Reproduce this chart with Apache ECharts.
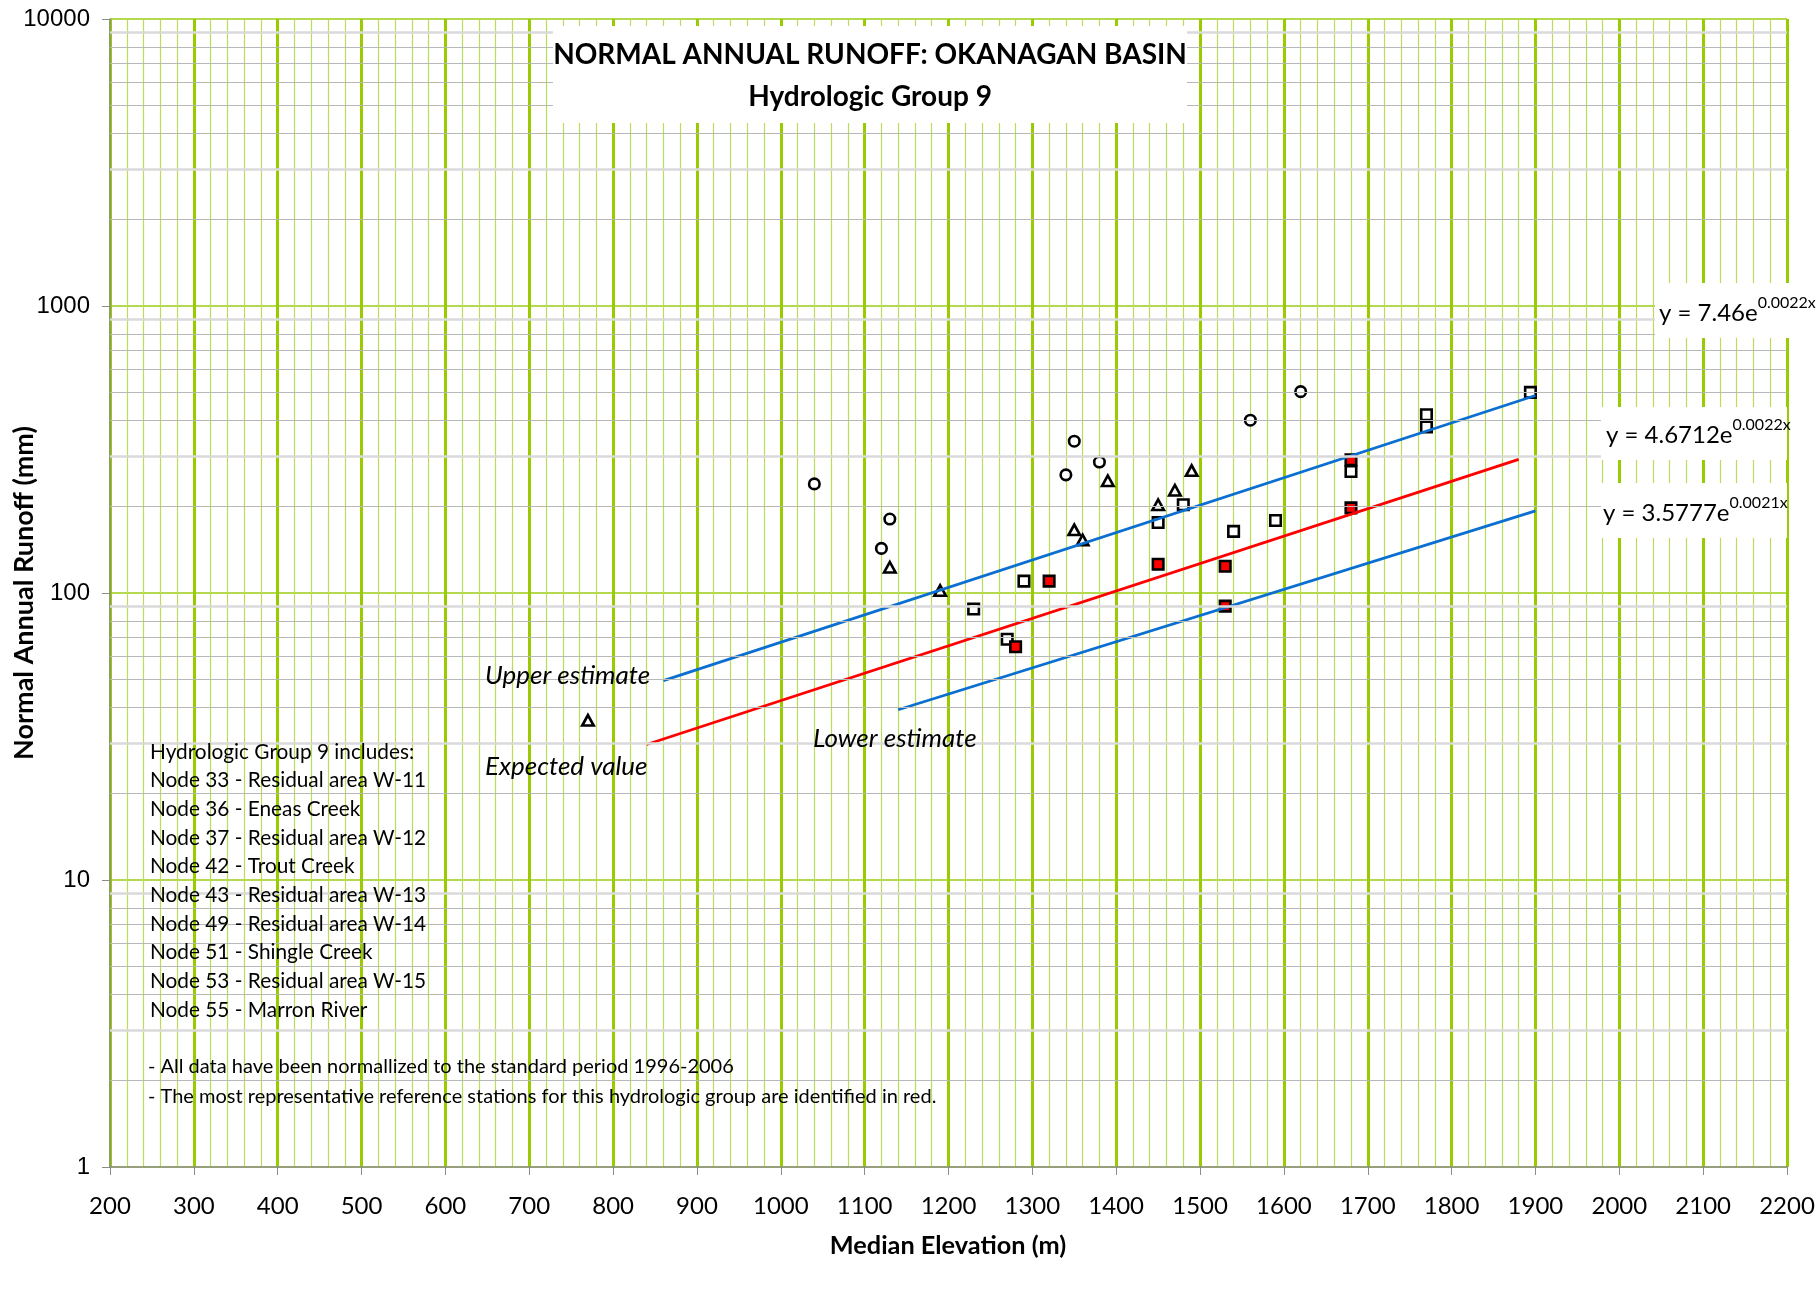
<!DOCTYPE html>
<html>
<head>
<meta charset="utf-8">
<title>Normal Annual Runoff: Okanagan Basin - Hydrologic Group 9</title>
<script src="https://cdn.jsdelivr.net/npm/echarts@6/dist/echarts.min.js"></script>
<style>
  html, body { margin: 0; padding: 0; background: #ffffff; }
  #chart { width: 1818px; height: 1291px; }
</style>
</head>
<body>
<div id="chart"></div>
<script>
// ---- Station data: median elevation (m) and normal annual runoff (mm) ----
const circleElevation = [1040, 1130, 1120, 1350, 1340, 1380, 1560, 1620];
const circleRunoff    = [240, 181, 143, 338, 258, 286, 400, 503];

const triangleElevation = [770, 1130, 1190, 1350, 1360, 1390, 1450, 1470, 1490];
const triangleRunoff    = [36, 123, 102, 166, 153, 246, 203, 228, 267];

const squareElevation = [1230, 1270, 1290, 1450, 1480, 1540, 1590, 1680, 1770, 1770, 1894];
const squareRunoff    = [88, 69, 110, 176, 203, 164, 179, 265, 418, 379, 500];

// reference stations (shown in red)
const refElevation = [1280, 1320, 1450, 1530, 1530, 1680, 1680];
const refRunoff    = [65, 110, 126, 124, 90, 291, 198];

// ---- Fitted curves y = a * e^(b x) ----
const trendNames  = ['Upper estimate', 'Expected value', 'Lower estimate'];
const trendCoef   = [7.46, 4.6712, 3.5777];
const trendExpo   = [0.0022, 0.0022, 0.0021];
const trendStart  = [860, 840, 1140];
const trendEnd    = [1900, 1880, 1900];
const trendColors = ['#0a6fd0', '#ff0000', '#0a6fd0'];

// ---- Axis ticks ----
const elevationMin = 200, elevationMax = 2200, elevationStep = 100;
const runoffMin = 1, runoffMax = 10000;
const runoffDecades = [1, 10, 100, 1000];
const minorMultipliers = [2, 3, 4, 5, 6, 7, 8, 9];

// ---- Notes ----
const groupHeading = 'Hydrologic Group 9 includes:';
const groupNodes = [
  'Node 33 - Residual area W-11',
  'Node 36 - Eneas Creek',
  'Node 37 - Residual area W-12',
  'Node 42 - Trout Creek',
  'Node 43 - Residual area W-13',
  'Node 49 - Residual area W-14',
  'Node 51 - Shingle Creek',
  'Node 53 - Residual area W-15',
  'Node 55 - Marron River'
];
const footNotes = [
  '- All data have been normallized to the standard period 1996-2006',
  '- The most representative reference stations for this hydrologic group are identified in red.'
];

const FONT = 'Lato, "Open Sans", sans-serif';
const TOP = 100;

function pairs(xs, ys) { return xs.map((x, i) => [x, ys[i]]); }

function textWidth(str, font) {
  const ctx = document.createElement('canvas').getContext('2d');
  ctx.font = font;
  return ctx.measureText(str).width;
}

// light horizontal grid at 2..9 within each decade
const minorLines = [];
runoffDecades.forEach(d => {
  minorMultipliers.forEach(m => {
    const light = (m === 3 || m === 9);
    minorLines.push({
      yAxis: m * d,
      lineStyle: { color: light ? '#dadada' : '#b8b8b8', width: light ? 2.5 : 1, type: 'solid' }
    });
  });
});

const trendSeries = trendNames.map((name, i) => ({
  name: name,
  type: 'line',
  z: 4,
  symbol: 'none',
  silent: true,
  lineStyle: { color: trendColors[i], width: 2.8 },
  data: [
    [trendStart[i], trendCoef[i] * Math.exp(trendExpo[i] * trendStart[i])],
    [trendEnd[i],   trendCoef[i] * Math.exp(trendExpo[i] * trendEnd[i])]
  ]
}));

function markerSeries(name, symbol, size, fill, data) {
  return {
    name: name,
    type: 'scatter',
    z: 3,
    symbol: symbol,
    symbolSize: size,
    itemStyle: { color: fill, borderColor: '#000000', borderWidth: 2.6, opacity: 1 },
    data: data
  };
}

// equation boxes (layout)
const eqLayout = [
  { box: [1655, 283, 163, 55], x: 1659, y: 313 },
  { box: [1601, 407, 186, 53], x: 1606, y: 435 },
  { box: [1601, 483, 186, 55], x: 1603, y: 513 }
];
const EQ_MAIN = '24px ' + FONT;
const EQ_SUP = '16px ' + FONT;

const graphics = [];

function rectEl(x, y, w, h) {
  return { type: 'rect', z: TOP, shape: { x: x, y: y, width: w, height: h }, style: { fill: '#ffffff' } };
}
function textEl(x, y, text, font, align, extra) {
  return Object.assign({
    type: 'text', z: TOP + 1, x: x, y: y,
    style: Object.assign({ text: text, font: font, fill: '#000', align: align, verticalAlign: 'middle' }, extra || {})
  });
}

// title block
graphics.push(rectEl(553, 26, 634, 97));
graphics.push(textEl(870, 55, 'NORMAL ANNUAL RUNOFF: OKANAGAN BASIN', 'bold 28px ' + FONT, 'center'));
graphics.push(textEl(870, 97, 'Hydrologic Group 9', 'bold 28px ' + FONT, 'center'));

// equations
eqLayout.forEach((L, i) => {
  const main = 'y = ' + trendCoef[i] + 'e';
  const sup = trendExpo[i] + 'x';
  const w = textWidth(main, EQ_MAIN);
  graphics.push(rectEl(L.box[0], L.box[1], L.box[2], L.box[3]));
  graphics.push(textEl(L.x, L.y, main, EQ_MAIN, 'left'));
  graphics.push(textEl(L.x + w, L.y - 10, sup, EQ_SUP, 'left'));
});

// curve captions
const captionPos = [[485, 676], [485, 767], [813, 739]];
trendNames.forEach((name, i) => {
  graphics.push(textEl(captionPos[i][0], captionPos[i][1], name, 'italic 26px ' + FONT, 'left'));
});

// node list
graphics.push({
  type: 'text', z: TOP + 1, x: 150, y: 737.5,
  style: { text: [groupHeading].concat(groupNodes).join('\n'), font: '20.8px ' + FONT, lineHeight: 28.67, fill: '#000', align: 'left', verticalAlign: 'top' }
});
graphics.push({
  type: 'text', z: TOP + 1, x: 148, y: 1052,
  style: { text: footNotes.join('\n'), font: '20px ' + FONT, lineHeight: 30, fill: '#000', align: 'left', verticalAlign: 'top' }
});

// axis titles
graphics.push({
  type: 'text', z: TOP + 1, x: 24, y: 593, rotation: Math.PI / 2,
  style: { text: 'Normal Annual Runoff (mm)', font: 'bold 27px ' + FONT, fill: '#000', align: 'center', verticalAlign: 'middle' }
});
graphics.push(textEl(948, 1246, 'Median Elevation (m)', 'bold 25.3px ' + FONT, 'center'));

const chart = echarts.init(document.getElementById('chart'), null, { renderer: 'canvas' });
chart.setOption({
  animation: false,
  backgroundColor: '#ffffff',
  grid: { left: 110, right: 31, top: 19, bottom: 124, containLabel: false },
  xAxis: {
    type: 'value', z: 1,
    min: elevationMin, max: elevationMax, interval: elevationStep,
    axisLine: { show: true, onZero: false, lineStyle: { color: '#8c8c8c', width: 1.5 } },
    axisTick: { show: true, length: 8, lineStyle: { color: '#8c8c8c' } },
    axisLabel: { color: '#000', fontFamily: FONT, fontSize: 24, margin: 27, formatter: v => String(v) },
    splitLine: { show: true, lineStyle: { color: '#99cc00', width: 3 } },
    minorTick: { show: false, splitNumber: 5 },
    minorSplitLine: { show: true, lineStyle: { color: '#b9dc5c', width: 1.2 } }
  },
  yAxis: {
    type: 'log', z: 1, logBase: 10,
    min: runoffMin, max: runoffMax, splitNumber: 4,
    axisLine: { show: true, onZero: false, lineStyle: { color: '#8c8c8c', width: 1.5 } },
    axisTick: { show: true, length: 8, lineStyle: { color: '#8c8c8c' } },
    axisLabel: { color: '#000', fontFamily: '"Liberation Sans", Arial, sans-serif', fontSize: 24, margin: 20, formatter: v => String(v) },
    splitLine: { show: true, lineStyle: { color: '#b3da4e', width: 2 } },
    minorTick: { show: false },
    minorSplitLine: { show: false }
  },
  series: [
    {
      name: 'minor grid', type: 'line', z: 0, silent: true, data: [],
      markLine: { silent: true, symbol: ['none', 'none'], label: { show: false }, animation: false, data: minorLines }
    }
  ].concat(trendSeries).concat([
    markerSeries('circle', 'circle', 10.5, '#ffffff', pairs(circleElevation, circleRunoff)),
    markerSeries('triangle', 'triangle', [11.5, 10.5], '#ffffff', pairs(triangleElevation, triangleRunoff)),
    markerSeries('square', 'rect', 10.5, '#ffffff', pairs(squareElevation, squareRunoff)),
    markerSeries('reference', 'rect', 10.5, '#ff0000', pairs(refElevation, refRunoff))
  ]),
  graphic: graphics
});
</script>
</body>
</html>
